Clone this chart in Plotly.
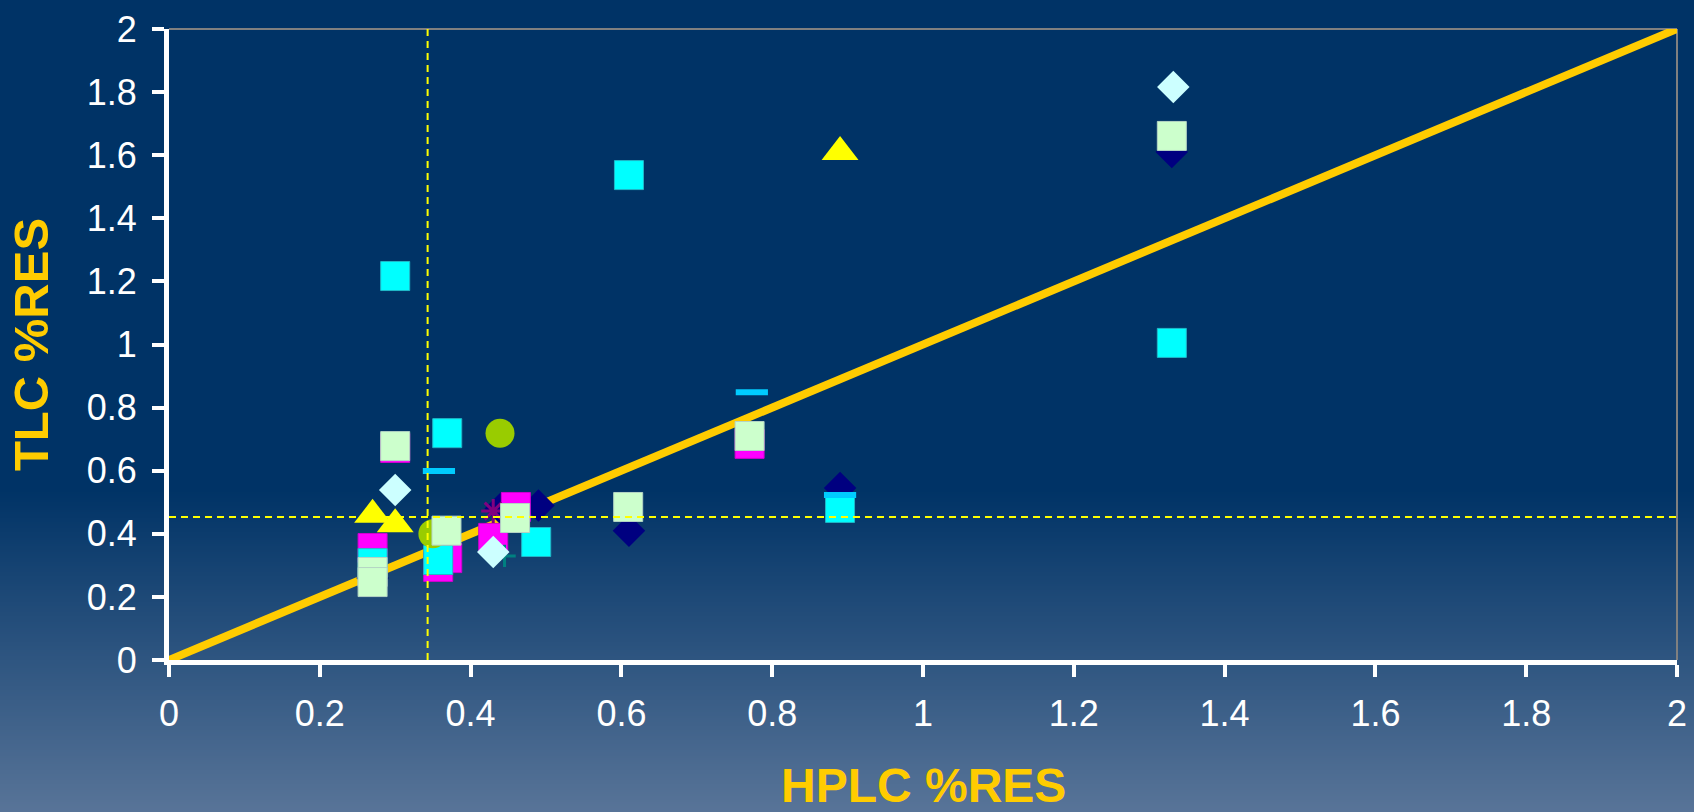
import plotly.graph_objects as go

# ---------------- data ----------------
x_ticks = [0, 0.2, 0.4, 0.6, 0.8, 1, 1.2, 1.4, 1.6, 1.8, 2]
x_tick_text = ["0", "0.2", "0.4", "0.6", "0.8", "1", "1.2", "1.4", "1.6", "1.8", "2"]
y_ticks = [0, 0.2, 0.4, 0.6, 0.8, 1, 1.2, 1.4, 1.6, 1.8, 2]
y_tick_text = ["0", "0.2", "0.4", "0.6", "0.8", "1", "1.2", "1.4", "1.6", "1.8", "2"]
x_title = "HPLC %RES"
y_title = "TLC %RES"

# identity line
ident_x = [0, 2]
ident_y = [0, 2]

# reference (limit) lines
limit_x = 0.343
limit_y = 0.453

navy_x = [0.27, 0.44, 0.49, 0.61, 0.89, 1.33]
navy_y = [0.26, 0.48, 0.49, 0.41, 0.545, 1.61]

magenta_x = [0.27, 0.30, 0.357, 0.369, 0.43, 0.46, 0.77]
magenta_y = [0.355, 0.672, 0.295, 0.323, 0.387, 0.485, 0.685]

yellow_x = [0.27, 0.30, 0.89]
yellow_y = [0.46, 0.43, 1.61]

cyan_x = [0.27, 0.30, 0.357, 0.369, 0.487, 0.61, 0.89, 1.33]
cyan_y = [0.307, 1.217, 0.317, 0.719, 0.374, 1.537, 0.482, 1.005]

purple_x = [0.43]
purple_y = [0.472]

olive_x = [0.35, 0.439]
olive_y = [0.40, 0.719]

teal_x = [0.445]
teal_y = [0.33]

sky_x = [0.358, 0.773, 0.89]
sky_y = [0.599, 0.849, 0.523]

lgreen_x = [0.27, 0.27, 0.30, 0.368, 0.459, 0.609, 0.77, 1.33]
lgreen_y = [0.279, 0.247, 0.678, 0.41, 0.45, 0.485, 0.71, 1.661]

lcyan_x = [0.30, 0.43, 1.332]
lcyan_y = [0.539, 0.342, 1.816]

# ---------------- figure ----------------
W, H = 1694, 812
ML, MR, MT, MB = 169, 17, 29, 152
plot_h = H - MT - MB

fig = go.Figure()

fig.add_trace(go.Scatter(x=ident_x, y=ident_y, mode="lines",
                         line=dict(color="#FFCC00", width=8), hoverinfo="skip"))


def add_markers(xs, ys, symbol, size, color, lcolor=None, lwidth=0):
    fig.add_trace(go.Scatter(
        x=xs, y=ys, mode="markers", cliponaxis=False,
        marker=dict(symbol=symbol, size=size, color=color,
                    line=dict(color=lcolor if lcolor else color, width=lwidth))))


add_markers(navy_x, navy_y, "diamond", 25, "#000080")
add_markers(magenta_x, magenta_y, "square", 29, "#FF00FF", "#D000D0", 1)
add_markers(yellow_x, yellow_y, "triangle-up", 32, "#FFFF00")
add_markers(cyan_x, cyan_y, "square", 29, "#00FFFF", "#20B8C8", 1)
add_markers(purple_x, purple_y, "asterisk-open", 20, "#800080", "#800080", 3)
add_markers(olive_x, olive_y, "circle", 29, "#99CC00")
add_markers(teal_x, teal_y, "cross-thin-open", 16, "#008080", "#008080", 3)
add_markers(sky_x, sky_y, "line-ew", 23, "#00CCFF", "#00CCFF", 6)
add_markers(lgreen_x, lgreen_y, "square", 29, "#CCFFCC", "#B4D4C4", 1)
add_markers(lcyan_x, lcyan_y, "diamond", 25, "#CCFFFF")

# dashed limit lines (on top)
fig.add_trace(go.Scatter(x=[limit_x, limit_x], y=[0, 2], mode="lines",
                         line=dict(color="#FFFF00", width=2, dash="7px,5px")))
fig.add_trace(go.Scatter(x=[0, 2], y=[limit_y, limit_y], mode="lines",
                         line=dict(color="#FFFF00", width=2, dash="7px,5px")))

# background gradient
shapes = []
top_px, bot_px = 490, H
c0 = (0, 51, 102)
c1 = (88, 116, 152)
step = 2
py = top_px
while py < bot_px + 4:
    f = min(1.0, (py + step / 2 - top_px) / (bot_px - top_px))
    col = tuple(int(round(c0[i] + (c1[i] - c0[i]) * f)) for i in range(3))
    y_hi = (H - MB - py) / plot_h
    y_lo = (H - MB - (py + step + 0.5)) / plot_h
    shapes.append(dict(type="rect", xref="paper", yref="paper", x0=-0.2, x1=1.2,
                       y0=y_lo, y1=y_hi, line=dict(width=0),
                       fillcolor="rgb(%d,%d,%d)" % col, layer="below"))
    py += step

# gray frame top/right
shapes.append(dict(type="line", xref="paper", yref="paper", x0=0, x1=1, y0=1, y1=1,
                   line=dict(color="#808080", width=2), layer="below"))
shapes.append(dict(type="line", xref="paper", yref="paper", x0=1, x1=1, y0=0, y1=1,
                   line=dict(color="#808080", width=2), layer="below"))

font_family = "Liberation Sans, Arial, sans-serif"

# x-axis title placed as a paper annotation
annotations = [dict(text="<b>%s</b>" % x_title, xref="paper", yref="paper",
                    x=0.5, y=(H - MB - 757) / plot_h, xanchor="center", yanchor="top",
                    showarrow=False,
                    font=dict(size=48, color="#FFCC00", family=font_family))]

fig.update_layout(
    width=W, height=H, autosize=False,
    margin=dict(l=ML, r=MR, t=MT, b=MB, pad=0, autoexpand=False),
    paper_bgcolor="#003366", plot_bgcolor="rgba(0,0,0,0)",
    showlegend=False, shapes=shapes, annotations=annotations,
    font=dict(family=font_family, color="white"),
    xaxis=dict(range=[0, 2], tickvals=x_ticks, ticktext=x_tick_text, automargin=False,
               showgrid=False, zeroline=False, showline=True, linecolor="white",
               linewidth=5, ticks="outside", ticklen=12, tickwidth=4, tickcolor="white",
               tickfont=dict(size=36, color="white", family=font_family),
               ticklabelstandoff=6),
    yaxis=dict(range=[0, 2], tickvals=y_ticks, ticktext=y_tick_text, automargin=False,
               showgrid=False, zeroline=False, showline=True, linecolor="white",
               linewidth=5, ticks="outside", ticklen=12, tickwidth=4, tickcolor="white",
               tickfont=dict(size=36, color="white", family=font_family),
               ticklabelstandoff=8,
               title=dict(text="<b>%s</b>" % y_title, standoff=24,
                          font=dict(size=49, color="#FFCC00", family=font_family))),
)

fig.write_html("out.html", config={"displayModeBar": False},
               post_script="document.body.style.margin='0';document.body.style.overflow='hidden';")
